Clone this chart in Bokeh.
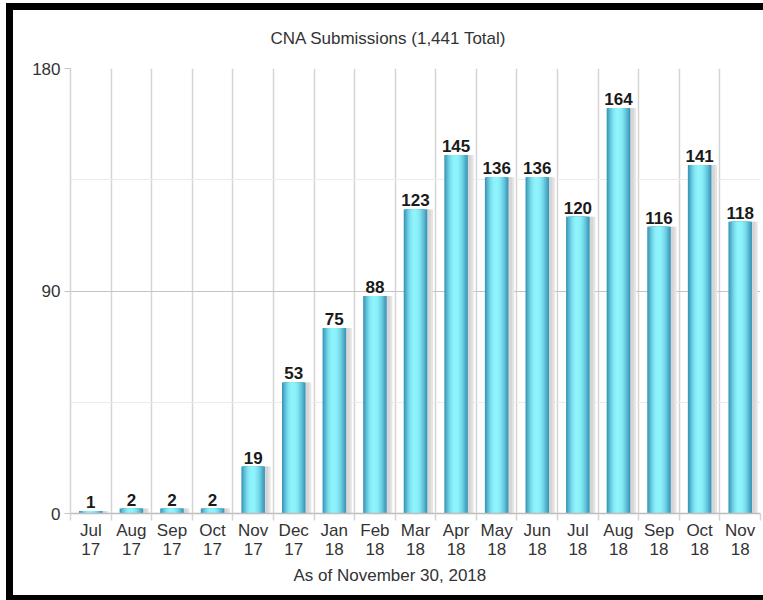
import numpy as np
from bokeh.plotting import figure
from bokeh.models import ColumnDataSource, FixedTicker, Range1d, Title
from bokeh.transform import dodge
from bokeh.core.properties import value
from bokeh.embed import file_html
from bokeh.resources import INLINE

# ---- data ----
months = ["Jul", "Aug", "Sep", "Oct", "Nov", "Dec", "Jan", "Feb", "Mar",
          "Apr", "May", "Jun", "Jul", "Aug", "Sep", "Oct", "Nov"]
years = ["17", "17", "17", "17", "17", "17", "18", "18", "18",
         "18", "18", "18", "18", "18", "18", "18", "18"]
counts = [1, 2, 2, 2, 19, 53, 75, 88, 123, 145, 136, 136, 120, 164, 116, 141, 118]
y_ticks = [0, 90, 180]
y_minor_ticks = [45, 135]
title_text = "CNA Submissions (1,441 Total)"
footer_text = "As of November 30, 2018"

FONT = "Liberation Sans"

idx = list(range(len(counts)))
boundaries = [i - 0.5 for i in range(len(counts) + 1)]
labels = [f"{m}\n{y}" for m, y in zip(months, years)]

src = ColumnDataSource(dict(x=idx, count=counts, label=[str(c) for c in counts]))

p = figure(width=763, height=600, output_backend="svg", toolbar_location=None,
           x_range=Range1d(-0.5, len(counts) - 0.5), y_range=Range1d(0, 180),
           min_border_left=70, min_border_right=3, min_border_top=68, min_border_bottom=87,
           background_fill_color="white", border_fill_alpha=0)
# black picture frame painted as the element background behind the transparent border area
p.styles = {"background": ("linear-gradient(black, black) 6px 3px / 7px 597px no-repeat, "
                           "linear-gradient(black, black) 6px 3px / 757px 7px no-repeat, "
                           "linear-gradient(black, black) 6px 595px / 757px 5px no-repeat, "
                           "white")}
p.outline_line_color = None

# title
p.title = Title(text=title_text, align="left", offset=200, standoff=42,
                text_font=FONT, text_font_size="17px", text_font_style="normal",
                text_color="#333333")
p.add_layout(Title(text=footer_text, align="left", offset=223, standoff=2,
                   text_font=FONT, text_font_size="17px", text_font_style="normal",
                   text_color="#333333"), "below")

# grids
p.xgrid.ticker = FixedTicker(ticks=boundaries)
p.xgrid.grid_line_color = "#d4d4d4"
p.xgrid.grid_line_width = 1.5
p.ygrid.ticker = FixedTicker(ticks=y_ticks, minor_ticks=y_minor_ticks)
p.ygrid.grid_line_color = "#c4c4c4"
p.ygrid.grid_line_width = 1.2
p.ygrid.minor_grid_line_color = "#ebebeb"
p.ygrid.minor_grid_line_width = 1.2

# axes
p.xaxis.ticker = FixedTicker(ticks=idx, minor_ticks=boundaries)
p.xaxis.major_label_overrides = {i: lab for i, lab in zip(idx, labels)}
p.xaxis.major_tick_line_color = None
p.xaxis.minor_tick_line_color = "#d4d4d4"
p.xaxis.minor_tick_line_width = 1.5
p.xaxis.minor_tick_in = 0
p.xaxis.minor_tick_out = 7
p.xaxis.axis_line_color = "#bdbdbd"
p.xaxis.axis_line_width = 1.5
p.xaxis.major_label_standoff = 0
p.xaxis.major_label_text_font = FONT
p.xaxis.major_label_text_font_size = "17px"
p.xaxis.major_label_text_color = "#333333"
p.xaxis.major_label_text_line_height = 1.05

p.yaxis.ticker = FixedTicker(ticks=y_ticks, minor_ticks=y_minor_ticks)
p.yaxis.minor_tick_line_color = None
p.yaxis.major_tick_line_color = "#c4c4c4"
p.yaxis.major_tick_in = 0
p.yaxis.major_tick_out = 6
p.yaxis.axis_line_color = "#d4d4d4"
p.yaxis.axis_line_width = 1.5
p.yaxis.major_label_standoff = 4
p.yaxis.major_label_text_font = FONT
p.yaxis.major_label_text_font_size = "17px"
p.yaxis.major_label_text_color = "#333333"

# shadow
p.vbar(x=dodge("x", 0.13), top="count", width=0.6, source=src,
       fill_color="#e4e4e4", line_color=None)
p.vbar(x=dodge("x", 0.10), top="count", width=0.55, source=src,
       fill_color="#d6d6d6", line_color=None)

# cylinder-like bars (layered for gradient)
dark = np.array([0x3b, 0x98, 0xbb])
bright = np.array([0x8e, 0xf3, 0xfb])
n_layers = 10
bar_w = 0.58
for k in range(n_layers):
    t = k / (n_layers - 1)
    w = bar_w * (1 - 0.88 * t)
    mix = np.sin(t * np.pi / 2)
    c = (dark + (bright - dark) * mix).astype(int)
    col = "#%02x%02x%02x" % tuple(c)
    p.vbar(x=dodge("x", -0.02 * t), top="count", width=w, source=src,
           fill_color=col, line_color=None)

# value labels
p.text(x="x", y="count", text="label", source=src, text_align="center",
       text_baseline="alphabetic", y_offset=-9, text_font=value(FONT),
       text_font_size="17px", text_font_style="bold", text_color="#1a1a1a")

open("out.html", "w").write(file_html(p, INLINE))
